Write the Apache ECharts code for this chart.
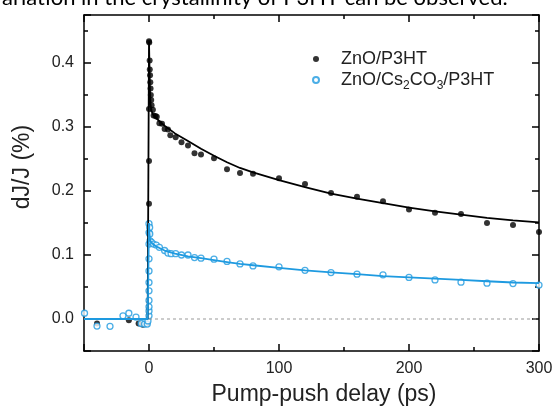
<!DOCTYPE html>
<html>
  <head>
    <meta charset="utf-8" />
    <title>dJ/J vs pump-push delay</title>
    <script src="https://cdn.jsdelivr.net/npm/echarts@6/dist/echarts.min.js"></script>
    <style>
      * {
        margin: 0;
        padding: 0;
      }
      html,
      body {
        width: 555px;
        height: 410px;
        background: #fff;
      }
      #frame,
      #plot {
        position: absolute;
        left: 0;
        top: 0;
        width: 555px;
        height: 410px;
      }
    </style>
  </head>
  <body>
    <div id="frame"></div>
    <div id="plot"></div>
    <script>
      // measured points, ZnO/P3HT
      const p3htDelay = [-40, -15.5, -8, -4.7, -1.5,
        0, 0, 0, 0, 0, 0.2, 0.5, 0.6, 0.8, 1, 1.2, 1.4, 1.7, 2,
        3, 3.5, 5, 6, 8, 10, 12, 14.6, 16.4, 20.5, 25, 30, 35, 40, 50, 60, 70, 80,
        100, 120, 140, 160, 180, 200, 220, 240, 260, 280, 300];
      const p3htSignal = [-0.007, -0.002, -0.007, -0.009, -0.007,
        0.135, 0.18, 0.247, 0.328, 0.434, 0.432, 0.404, 0.39, 0.381, 0.37, 0.36, 0.35, 0.342, 0.334,
        0.327, 0.318, 0.317, 0.316, 0.306, 0.305, 0.297, 0.296, 0.287, 0.284, 0.276, 0.271, 0.259, 0.257, 0.251, 0.234, 0.228, 0.227,
        0.22, 0.211, 0.197, 0.191, 0.184, 0.171, 0.166, 0.164, 0.15, 0.147, 0.136];

      // measured points, ZnO/Cs2CO3/P3HT
      const csDelay = [-49.6, -40, -30, -20, -15.5, -10, -6, -3.4, -1.3, -0.8,
        0, 0, 0, 0, 0, 0, 0, 0, 0, 0, 0,
        0.5, 0.6, 0.8, 1.8, 3.5, 5.6, 8, 12, 14.6, 17, 20.5, 25, 30, 35, 40, 50, 60, 70, 80,
        100, 120, 140, 160, 180, 200, 220, 240, 260, 280, 300];
      const csSignal = [0.009, -0.011, -0.0115, 0.005, 0.009, 0.003, -0.007, -0.008, -0.008, -0.003,
        0.005, 0.0125, 0.019, 0.029, 0.044, 0.057, 0.075, 0.094, 0.117, 0.135, 0.149,
        0.143, 0.133, 0.122, 0.12, 0.117, 0.1155, 0.112, 0.107, 0.103, 0.102, 0.102, 0.1, 0.1, 0.096, 0.095, 0.0935, 0.09, 0.086, 0.083,
        0.0815, 0.076, 0.0726, 0.07, 0.069, 0.065, 0.061, 0.0575, 0.056, 0.0554, 0.053];

      // fit curves
      const p3htFitDelay = [-50, -1, -0.3, 0, 0.3, 0.7, 1.2, 2, 3, 5, 8, 12, 20, 30, 40, 50, 60, 70, 80,
        100, 120, 140, 160, 180, 200, 220, 240, 260, 280, 300];
      const p3htFit = [0, 0, 0.002, 0.434, 0.4, 0.36, 0.335, 0.325, 0.32, 0.315, 0.309, 0.302, 0.29, 0.278, 0.266, 0.255, 0.245, 0.236, 0.229,
        0.217, 0.206, 0.196, 0.188, 0.181, 0.174, 0.168, 0.163, 0.158, 0.154, 0.151];
      const csFitDelay = [-50, -1, -0.3, 0, 0.3, 0.7, 1.5, 3, 5, 8, 12, 20, 30, 40, 50, 60, 70, 80,
        100, 120, 140, 160, 180, 200, 220, 240, 260, 280, 300];
      const csFit = [0, 0, 0.001, 0.15, 0.135, 0.125, 0.12, 0.117, 0.114, 0.111, 0.107, 0.102, 0.098, 0.095, 0.092, 0.089, 0.086, 0.084,
        0.08, 0.076, 0.073, 0.07, 0.067, 0.065, 0.063, 0.061, 0.059, 0.057, 0.056];

      // dotted zero reference
      const zeroDelay = [0, 300];
      const zeroLevel = [0, 0];

      const zip = (xs, ys) => xs.map((x, i) => [x, ys[i]]);

      const BLUE = "#1e9ae0";
      const FONT = "Liberation Sans";
      const X_MIN = -50, X_MAX = 300;
      const Y_MIN = -0.05, Y_MAX = 0.475;
      const box = () => ({ left: 84, right: 16, top: 15, bottom: 59, outerBoundsMode: "none" });

      const frameLine = () => ({ show: true, onZero: false, lineStyle: { color: "#000", width: 1.5 } });
      const tick = (len) => ({ show: true, inside: true, length: len, lineStyle: { color: "#000", width: 1.5 } });

      // frame chart: box, labels and ticks only (grid 0 long ticks, grid 1 short ticks at half steps)
      const xAxisFor = (position, major) => ({
        type: "value",
        gridIndex: major ? 0 : 1,
        position: position,
        min: X_MIN,
        max: X_MAX,
        ...(major ? { splitNumber: 4 } : { interval: 50 }),
        axisLine: major ? frameLine() : { show: false, onZero: false },
        axisTick: tick(major ? 7 : 4),
        axisLabel: {
          show: major && position === "bottom",
          margin: 10,
          fontFamily: FONT,
          fontSize: 16,
          color: "#222",
          formatter: (v) => (v < 0 ? "" : String(v)),
        },
        splitLine: { show: false },
      });
      const yAxisFor = (position, major) => ({
        type: "value",
        gridIndex: major ? 0 : 1,
        position: position,
        min: Y_MIN,
        max: Y_MAX,
        ...(major ? { splitNumber: 5 } : { interval: 0.05 }),
        axisLine: major ? frameLine() : { show: false, onZero: false },
        axisTick: tick(major ? 7 : 4),
        axisLabel: {
          show: major && position === "left",
          margin: 10,
          fontFamily: FONT,
          fontSize: 16,
          color: "#222",
          formatter: (v) => (v < -0.001 || v > 0.41 ? "" : v.toFixed(1)),
        },
        splitLine: { show: false },
      });

      const frame = echarts.init(document.getElementById("frame"));
      frame.setOption({
        animation: false,
        grid: [box(), box()],
        xAxis: [xAxisFor("bottom", true), xAxisFor("top", true), xAxisFor("bottom", false), xAxisFor("top", false)],
        yAxis: [yAxisFor("left", true), yAxisFor("right", true), yAxisFor("left", false), yAxisFor("right", false)],
      });

      // plot chart: same box, hidden axes, data, legend and titles
      const plot = echarts.init(document.getElementById("plot"));
      plot.setOption({
        animation: false,
        grid: box(),
        xAxis: { type: "value", min: X_MIN, max: X_MAX, show: false },
        yAxis: { type: "value", min: Y_MIN, max: Y_MAX, show: false },
        legend: {
          orient: "vertical",
          left: 307,
          top: 45,
          itemWidth: 40,
          itemHeight: 6,
          itemGap: 3,
          data: [
            { name: "ZnO/P3HT", icon: "circle" },
            { name: "ZnO/Cs2CO3/P3HT", icon: "circle" },
          ],
          formatter: (name) =>
            name === "ZnO/P3HT"
              ? "{a|ZnO/P3HT}"
              : "{a|ZnO/Cs}{s|2}{a|CO}{s|3}{a|/P3HT}",
          textStyle: {
            rich: {
              a: { fontFamily: FONT, fontSize: 18, color: "#222", lineHeight: 24 },
              s: { fontFamily: FONT, fontSize: 12, color: "#222", lineHeight: 12, verticalAlign: "bottom" },
            },
          },
        },
        graphic: [
          {
            type: "text",
            left: -9,
            top: -13,
            style: {
              text: "variation in the crystallinity of P3HT can be observed.",
              fontFamily: "Lato",
              fontSize: 22,
              fill: "#000",
            },
          },
          {
            type: "text",
            x: 324,
            y: 395,
            style: {
              text: "Pump-push delay (ps)",
              fontFamily: FONT,
              fontSize: 23,
              fill: "#222",
              align: "center",
              verticalAlign: "middle",
            },
          },
          {
            type: "text",
            x: 23,
            y: 167,
            rotation: Math.PI / 2,
            style: {
              text: "dJ/J (%)",
              fontFamily: FONT,
              fontSize: 23,
              fill: "#222",
              align: "center",
              verticalAlign: "middle",
            },
          },
        ],
        series: [
          {
            name: "zero",
            type: "line",
            data: zip(zeroDelay, zeroLevel),
            showSymbol: false,
            silent: true,
            lineStyle: { color: "#999", type: [3, 3], width: 1 },
          },
          {
            name: "P3HT fit",
            type: "line",
            data: zip(p3htFitDelay, p3htFit),
            showSymbol: false,
            silent: true,
            lineStyle: { color: "#000", width: 1.8 },
          },
          {
            name: "ZnO/P3HT",
            type: "scatter",
            data: zip(p3htDelay, p3htSignal),
            symbol: "circle",
            symbolSize: 6,
            itemStyle: { color: "#000" },
          },
          {
            name: "Cs fit",
            type: "line",
            data: zip(csFitDelay, csFit),
            showSymbol: false,
            silent: true,
            lineStyle: { color: BLUE, width: 1.8 },
          },
          {
            name: "ZnO/Cs2CO3/P3HT",
            type: "scatter",
            data: zip(csDelay, csSignal),
            symbol: "circle",
            symbolSize: 6,
            itemStyle: { color: "#fff", borderColor: BLUE, borderWidth: 1.3 },
          },
        ],
      });
    </script>
  </body>
</html>
